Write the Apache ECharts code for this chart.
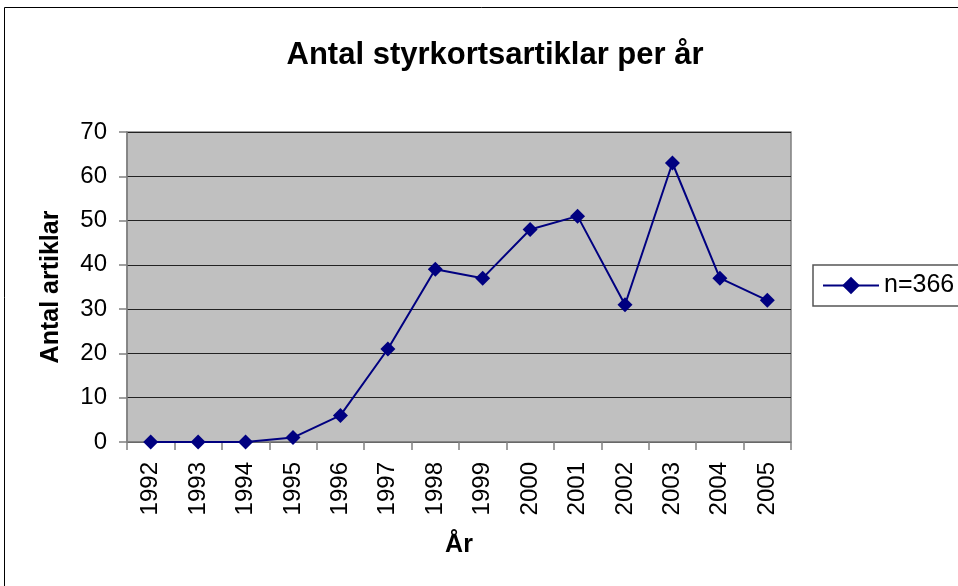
<!DOCTYPE html>
<html>
<head>
<meta charset="utf-8">
<script src="https://cdn.jsdelivr.net/npm/echarts@6/dist/echarts.min.js"></script>
<style>
html,body{margin:0;padding:0;background:#fff;}
#c{width:958px;height:586px;}
</style>
</head>
<body>
<div id="c"></div>
<script>
const categories = ['1992','1993','1994','1995','1996','1997','1998','1999','2000','2001','2002','2003','2004','2005'];
const values = [0, 0, 0, 1, 6, 21, 39, 37, 48, 51, 31, 63, 37, 32];
const seriesName = 'n=366';
const yTicks = {min: 0, max: 70, interval: 10};

const chart = echarts.init(document.getElementById('c'), null, {renderer: 'canvas'});
const font = 'Liberation Sans, Arial, sans-serif';
chart.setOption({
  animation: false,
  backgroundColor: '#fff',
  title: {
    text: 'Antal styrkortsartiklar per år',
    left: 490, textAlign: 'center', top: 35,
    textStyle: {fontFamily: font, fontSize: 31, fontWeight: 'bold', color: '#000'}
  },
  graphic: [{
    type: 'rect', shape: {x: 4.5, y: 7.5, width: 1000, height: 700},
    style: {fill: 'none', stroke: '#000', lineWidth: 1}, silent: true, z: -1
  }],
  legend: {
    left: 813, top: 265,
    data: [seriesName],
    itemWidth: 56, itemHeight: 22, itemGap: 8,
    padding: [8, 40, 8, 9],
    borderColor: '#555', borderWidth: 1.5,
    itemStyle: {},
    textStyle: {fontFamily: font, fontSize: 25, color: '#000', padding: [0, 0, 0, 0]}
  },
  grid: {
    left: 127, top: 132, right: 167, bottom: 144,
    show: true, backgroundColor: '#c0c0c0', borderColor: '#808080', borderWidth: 1.5
  },
  xAxis: {
    type: 'category', data: categories, boundaryGap: true,
    name: 'År', nameLocation: 'middle', nameGap: 91,
    nameTextStyle: {fontFamily: font, fontSize: 25, fontWeight: 'bold', color: '#000'},
    axisLine: {lineStyle: {color: '#808080', width: 1.5}},
    axisTick: {show: true, length: 8, alignWithLabel: false, lineStyle: {color: '#808080', width: 1.5}},
    axisLabel: {rotate: 90, margin: 20, fontFamily: font, fontSize: 24, color: '#000'},
    splitLine: {show: false}
  },
  yAxis: {
    type: 'value', min: yTicks.min, max: yTicks.max, interval: yTicks.interval,
    name: 'Antal artiklar', nameLocation: 'middle', nameGap: 63, nameRotate: 90,
    nameTextStyle: {fontFamily: font, fontSize: 25, fontWeight: 'bold', color: '#000'},
    axisLine: {show: true, lineStyle: {color: '#808080', width: 1.5}},
    axisTick: {show: true, length: 8, lineStyle: {color: '#808080', width: 1.5}},
    axisLabel: {margin: 20, fontFamily: font, fontSize: 24, color: '#000'},
    splitLine: {show: true, lineStyle: {color: '#222', width: 1}}
  },
  series: [{
    name: seriesName, type: 'line', data: values,
    symbol: 'diamond', symbolSize: 15,
    lineStyle: {color: '#000080', width: 2},
    itemStyle: {color: '#000080'}
  }]
});
</script>
</body>
</html>
